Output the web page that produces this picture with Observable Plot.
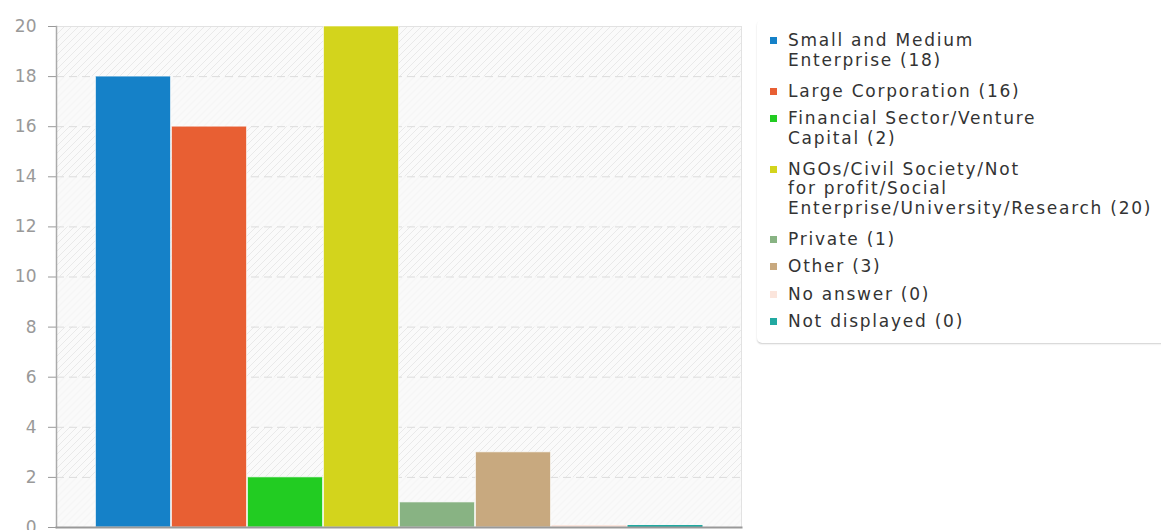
<!DOCTYPE html>
<html>
<head>
<meta charset="utf-8">
<script src="https://cdn.jsdelivr.net/npm/d3@7"></script>
<script src="https://cdn.jsdelivr.net/npm/@observablehq/plot@0.6"></script>
<style>
  html, body { margin: 0; padding: 0; background: #fff; }
  body { width: 1161px; height: 530px; position: relative; overflow: hidden; font-family: "DejaVu Sans", sans-serif; }
  #chart { position: absolute; left: 0; top: 0; }
  #legend { position: absolute; left: 757px; top: 20px; width: 420px; padding: 11px 0 11px 0;
    border-radius: 5px; box-shadow: 0 2px 2px -1px rgba(0,0,0,0.16), -1px 1px 2px -1px rgba(0,0,0,0.12); background: #fff; }
  .item { position: relative; padding-left: 31px; margin-bottom: 8px; font-size: 17px; line-height: 19.5px;
    color: #333; letter-spacing: 1.75px; white-space: pre; }
  .item.multi { margin-bottom: 11.5px; }
  .item:last-child { margin-bottom: 0; }
  .sw { position: absolute; left: 13px; top: 6px; width: 7px; height: 7px; }
</style>
</head>
<body>
<div id="chart"></div>
<div id="legend"></div>
<script>
const categories = ["Small and Medium Enterprise", "Large Corporation", "Financial Sector/Venture Capital",
  "NGOs/Civil Society/Not for profit/Social Enterprise/University/Research", "Private", "Other", "No answer", "Not displayed"];
const legendLabels = ["Small and Medium\nEnterprise (18)", "Large Corporation (16)", "Financial Sector/Venture\nCapital (2)",
  "NGOs/Civil Society/Not\nfor profit/Social\nEnterprise/University/Research (20)", "Private (1)", "Other (3)", "No answer (0)", "Not displayed (0)"];
const values = [18, 16, 2, 20, 1, 3, 0, 0];
const colors = ["#1581c8", "#e85f33", "#22cc22", "#d3d41c", "#88b383", "#c8a97f", "#fbe5dc", "#21a9a1"];
const yTicks = [0, 2, 4, 6, 8, 10, 12, 14, 16, 18, 20];

const data = categories.map((c, i) => ({cat: c, value: values[i], color: colors[i]}));
const bands = yTicks.slice(0, -1).map((t, i) => ({y1: t, y2: yTicks[i + 1], odd: i % 2 === 1})).filter(d => d.odd);

const plot = Plot.plot({
  width: 745, height: 530,
  marginLeft: 56, marginRight: 4, marginTop: 26, marginBottom: 3,
  style: {fontFamily: "DejaVu Sans, sans-serif", fontSize: "17px", background: "transparent"},
  x: {type: "band", domain: categories, paddingInner: 0, paddingOuter: 0.5, axis: null},
  y: {domain: [0, 20], ticks: yTicks, tickFormat: d => d},
  marks: [
    Plot.frame({fill: "url(#hatchLight)"}),
    Plot.rectY(bands, {y1: "y1", y2: "y2", fill: "url(#hatchDark)"}),
    Plot.gridY(yTicks.filter(t => t > 0 && t < 20), {stroke: "#dcdcdc", strokeOpacity: 1, strokeDasharray: "8,5"}),
    Plot.frame({stroke: "#e2e2e2"}),
    Plot.axisY({ticks: yTicks, tickSize: 8, tickPadding: 12, stroke: "#999", color: "#999", fontSize: 17}),
    Plot.barY(data, {x: "cat", y: "value", fill: "color", stroke: "#fff", strokeOpacity: 0.6, strokeWidth: 1, insetLeft: 0.5, insetRight: 0.5}),
    Plot.tickY(data.filter(d => d.value === 0), {x: "cat", y: "value", stroke: "color", strokeWidth: 3, dy: -1, insetLeft: 0.5, insetRight: 0.5}),
    Plot.frame({anchor: "left", stroke: "#aaa", strokeWidth: 1.5}),
    Plot.frame({anchor: "bottom", stroke: "#999", strokeWidth: 2})
  ]
});

const svg = d3.select(plot);
const defs = svg.insert("defs", ":first-child");
function hatch(id, bg, line) {
  const p = defs.append("pattern").attr("id", id).attr("patternUnits", "userSpaceOnUse")
    .attr("width", 7).attr("height", 7);
  p.append("rect").attr("width", 7).attr("height", 7).attr("fill", bg);
  p.append("path").attr("d", "M-1,1 l2,-2 M0,7 l7,-7 M6,8 l2,-2").attr("stroke", line).attr("stroke-width", 1);
}
hatch("hatchLight", "#fafafa", "#f1f1f1");
hatch("hatchDark", "#fafafa", "#e9e9e9");
document.getElementById("chart").appendChild(plot);

const legend = d3.select("#legend");
legendLabels.forEach((l, i) => {
  const it = legend.append("div").attr("class", "item" + (l.includes("\n") ? " multi" : ""));
  it.append("span").attr("class", "sw").style("background", colors[i]);
  it.append("span").text(l);
});
</script>
</body>
</html>
